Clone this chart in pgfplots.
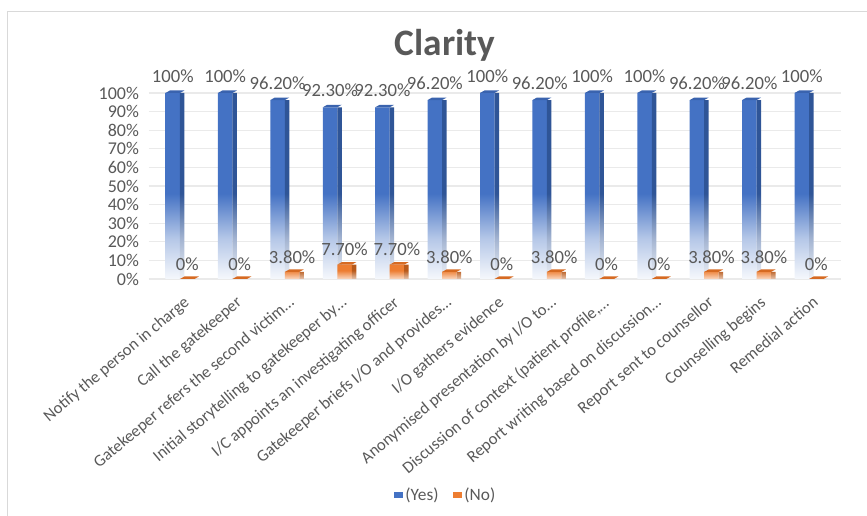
\documentclass[border=0pt]{standalone}
\usepackage{fontspec}
\setmainfont{Carlito}
\usepackage{pgfplots}
\pgfplotsset{compat=1.18}
\usepackage{pgfplotstable}

\definecolor{yesFront}{HTML}{4472C4}
\definecolor{yesSide}{HTML}{2F5597}
\definecolor{yesTop}{HTML}{3A63AE}
\definecolor{noFront}{HTML}{ED7D31}
\definecolor{noSide}{HTML}{B8591A}
\definecolor{noTop}{HTML}{D66A22}
\definecolor{txt}{HTML}{595959}
\definecolor{gridc}{HTML}{EAEAEA}
\definecolor{framec}{HTML}{D9D9D9}

% vertical fades for the bar faces (bottom light, upper half solid)
\pgfdeclareverticalshading{yesfade}{100bp}{color(0bp)=(yesFront!5); color(25bp)=(yesFront!5); color(36bp)=(yesFront!40); color(48bp)=(yesFront); color(100bp)=(yesFront)}
\pgfdeclareverticalshading{yessidefade}{100bp}{color(0bp)=(yesSide!8); color(25bp)=(yesSide!8); color(36bp)=(yesSide!45); color(48bp)=(yesSide); color(100bp)=(yesSide)}
\pgfdeclareverticalshading{nofade}{100bp}{color(0bp)=(noFront!30); color(25bp)=(noFront!30); color(55bp)=(noFront); color(100bp)=(noFront)}
\pgfdeclareverticalshading{nosidefade}{100bp}{color(0bp)=(noSide!35); color(25bp)=(noSide!35); color(55bp)=(noSide); color(100bp)=(noSide)}

% slanted top faces of the columns
\pgfdeclareplotmark{yestop}{%
  \pgfpathmoveto{\pgfqpoint{-10.875pt}{0pt}}%
  \pgfpathlineto{\pgfqpoint{0pt}{0pt}}%
  \pgfpathlineto{\pgfqpoint{3.375pt}{1.9pt}}%
  \pgfpathlineto{\pgfqpoint{-7.5pt}{1.9pt}}%
  \pgfpathclose\pgfusepathqfill}
\pgfdeclareplotmark{notop}{%
  \pgfpathmoveto{\pgfqpoint{0pt}{0pt}}%
  \pgfpathlineto{\pgfqpoint{10.875pt}{0pt}}%
  \pgfpathlineto{\pgfqpoint{14.25pt}{1.9pt}}%
  \pgfpathlineto{\pgfqpoint{3.375pt}{1.9pt}}%
  \pgfpathclose\pgfusepathqfill}

\pgfplotstableread{
x yes yeslab no nolab
0  100  100   0   0
1  100  100   0   0
2  96.2 96.20 3.8 3.80
3  92.3 92.30 7.7 7.70
4  92.3 92.30 7.7 7.70
5  96.2 96.20 3.8 3.80
6  100  100   0   0
7  96.2 96.20 3.8 3.80
8  100  100   0   0
9  100  100   0   0
10 96.2 96.20 3.8 3.80
11 96.2 96.20 3.8 3.80
12 100  100   0   0
}\clarity

\begin{document}
\begin{tikzpicture}
\path[use as bounding box] (0,0) rectangle (650.25pt,387pt);
\draw[framec, line width=1.1pt] (5.5pt,0) -- (5.5pt,378.25pt) -- (650.25pt,378.25pt);
\node[font=\bfseries\fontsize{28}{32}\selectfont, text=txt] at (333.75pt,353.25pt) {Clarity};

\begin{axis}[
  at={(111.4pt,177.75pt)}, anchor=south west,
  scale only axis, width=519pt, height=139.5pt,
  xmin=-0.6, xmax=12.6, ymin=0, ymax=100,
  axis line style={draw=none},
  ymajorgrids, grid style={gridc, line width=0.9pt},
  major tick length=0pt,
  ytick={0,10,...,100},
  yticklabel={\pgfmathprintnumber{\tick}\%},
  /pgf/number format/assume math mode=true,
  xtick={0,...,12},
  xticklabels={Notify the person in charge, Call the gatekeeper,
    Gatekeeper refers the second victim…, Initial storytelling to gatekeeper by…,
    I/C appoints an investigating officer, Gatekeeper briefs I/O and provides…,
    I/O gathers evidence, Anonymised presentation by I/O to…,
    {Discussion of context (patient profile,…}, Report writing based on discussion…,
    Report sent to counsellor, Counselling begins, Remedial action},
  tick label style={text=txt},
  xticklabel style={font=\fontsize{12.5}{14}\selectfont, xshift=2pt, yshift=-12pt, rotate=40, anchor=north east, inner sep=0pt},
  yticklabel style={font=\fontsize{13.5}{15}\selectfont, inner sep=2pt, xshift=-5pt},
  clip=false,
  legend style={at={(0.43,-1.161)}, anchor=center, draw=none, fill=none,
    legend columns=2, font=\fontsize{13}{15}\selectfont, text=txt,
    /tikz/every even column/.append style={column sep=9pt}},
  legend cell align=left,
]
% (Yes) columns: front face, side face, top face
\addplot[forget plot, ybar, bar width=10.875pt, bar shift=-5.44pt, draw=none, shade, shading=yesfade,
  point meta=explicit symbolic, nodes near coords={\pgfplotspointmeta\%},
  every node near coord/.append style={font=\fontsize{14}{16}\selectfont, text=txt, anchor=center, xshift=-5.44pt, yshift=12.75pt}]
  table[x=x, y=yes, meta=yeslab] {\clarity};
\addplot[forget plot, ybar, bar width=3.375pt, bar shift=1.69pt, draw=none, shade, shading=yessidefade]
  table[x=x, y=yes] {\clarity};
\addplot[forget plot, only marks, mark=yestop, mark options={fill=yesTop}, draw=none]
  table[x=x, y=yes] {\clarity};
% (No) columns
\addplot[forget plot, ybar, bar width=10.875pt, bar shift=5.44pt, draw=none, shade, shading=nofade,
  point meta=explicit symbolic, nodes near coords={\pgfplotspointmeta\%},
  every node near coord/.append style={font=\fontsize{14}{16}\selectfont, text=txt, anchor=center, xshift=5.44pt, yshift=11.25pt}]
  table[x=x, y=no, meta=nolab] {\clarity};
\addplot[forget plot, ybar, bar width=3.375pt, bar shift=12.56pt, draw=none, shade, shading=nosidefade]
  table[x=x, y=no] {\clarity};
\addplot[forget plot, only marks, mark=notop, mark options={fill=noTop}, draw=none]
  table[x=x, y=no] {\clarity};

\addlegendimage{legend image code/.code={\fill[yesFront] (0pt,-1.9pt) rectangle (6pt,1.9pt);}}
\addlegendentry{(Yes)}
\addlegendimage{legend image code/.code={\fill[noFront] (0pt,-1.9pt) rectangle (6pt,1.9pt);}}
\addlegendentry{(No)}
\end{axis}
\end{tikzpicture}
\end{document}
